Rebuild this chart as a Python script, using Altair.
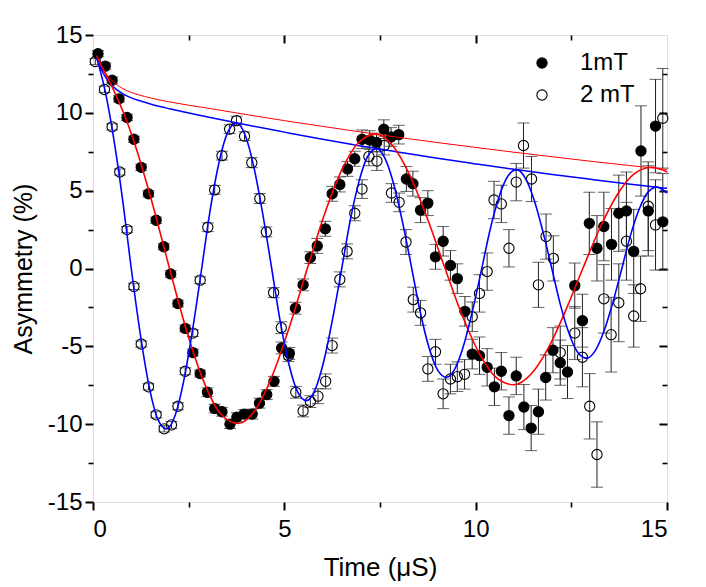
import altair as alt
import pandas as pd

# ---------------- data ----------------
# 1 mT (filled circles)
t1 = [0.13, 0.32, 0.50, 0.68, 0.89, 1.07, 1.26, 1.45, 1.65, 1.85,
      2.03, 2.22, 2.41, 2.61, 2.80, 2.99, 3.18, 3.37, 3.58, 3.76,
      3.95, 4.16, 4.35, 4.54, 4.73, 4.93, 5.13, 5.29, 5.49, 5.68,
      5.86, 6.07, 6.25, 6.45, 6.65, 6.84, 7.03, 7.23, 7.41, 7.60,
      7.79, 7.99, 8.19, 8.36, 8.56, 8.75, 8.95, 9.15, 9.34, 9.52,
      9.72, 9.91, 10.10, 10.30, 10.49, 10.67, 10.87, 11.06, 11.26, 11.45,
      11.64, 11.83, 12.02, 12.21, 12.40, 12.59, 12.79, 12.97, 13.17, 13.35,
      13.55, 13.74, 13.94, 14.13, 14.32, 14.51, 14.70, 14.89]
y1 = [13.8, 13.0, 12.1, 10.9, 9.7, 8.3, 6.5, 4.8, 3.1, 1.4,
      -0.35, -2.25, -3.85, -5.4, -6.75, -7.95, -9.0, -9.2, -10.0, -9.55,
      -9.35, -9.35, -8.65, -8.1, -7.25, -5.1, -5.45, -2.55, -1.05, 0.7,
      1.45, 2.55, 4.8, 5.4, 6.4, 7.05, 8.3, 8.25, 8.1, 8.95,
      8.45, 8.6, 5.75, 5.45, 3.75, 4.2, 0.75, 1.75, 0.2, -0.65,
      -2.75, -5.5, -5.6, -6.35, -7.6, -6.6, -9.45, -6.9, -8.9, -10.25,
      -9.2, -7.0, -5.25, -6.05, -6.65, -1.1, -3.35, 2.9, 1.3, 2.7,
      1.55, 3.55, 3.7, 1.1, 7.55, 3.7, 9.15, 3.0]
e1 = [0.2, 0.2, 0.2, 0.2, 0.2, 0.2, 0.2, 0.2, 0.2, 0.2,
      0.22, 0.22, 0.22, 0.22, 0.22, 0.28, 0.28, 0.28, 0.28, 0.28,
      0.28, 0.32, 0.32, 0.32, 0.32, 0.38, 0.38, 0.38, 0.38, 0.38,
      0.48, 0.48, 0.48, 0.48, 0.48, 0.48, 0.6, 0.6, 0.6, 0.6,
      0.6, 0.6, 0.8, 0.8, 0.8, 0.8, 0.8, 0.95, 0.95, 0.95,
      0.95, 0.95, 1.2, 1.2, 1.2, 1.2, 1.2, 1.2, 1.45, 1.45,
      1.45, 1.45, 1.45, 1.45, 1.7, 1.45, 1.7, 2.0, 2.1, 2.2,
      2.3, 2.45, 2.5, 2.7, 2.9, 2.9, 3.0, 3.1]

# 2 mT (open circles)
t2 = [0.06, 0.30, 0.50, 0.70, 0.89, 1.07, 1.26, 1.45, 1.65, 1.86,
      2.05, 2.22, 2.41, 2.61, 2.80, 3.00, 3.18, 3.37, 3.57, 3.75,
      3.96, 4.15, 4.36, 4.53, 4.72, 4.92, 5.11, 5.30, 5.49, 5.68,
      5.88, 6.08, 6.25, 6.45, 6.64, 6.84, 7.03, 7.21, 7.42, 7.61,
      7.80, 8.00, 8.18, 8.37, 8.56, 8.75, 8.95, 9.15, 9.34, 9.52,
      9.71, 9.91, 10.10, 10.30, 10.48, 10.67, 10.87, 11.06, 11.25, 11.46,
      11.64, 11.84, 12.03, 12.21, 12.59, 12.79, 12.98, 13.17, 13.35, 13.54,
      13.74, 13.94, 14.13, 14.31, 14.51, 14.70, 14.89]
y2 = [13.3, 11.5, 9.1, 6.2, 2.5, -1.15, -4.85, -7.6, -9.4, -10.3,
      -10.05, -8.85, -6.6, -4.15, -0.75, 2.65, 5.05, 7.25, 8.95, 9.5,
      8.5, 6.8, 4.5, 2.35, -1.55, -3.8, -5.6, -7.95, -9.15, -8.55,
      -8.2, -7.25, -4.95, -0.7, 1.1, 3.55, 5.1, 7.2, 6.9, 7.9,
      4.85, 4.25, 1.7, -2.0, -2.85, -6.45, -5.35, -8.05, -7.1, -6.95,
      -6.8, -3.1, -1.6, -0.2, 4.4, 4.15, 1.3, 5.55, 7.9, 5.75,
      -1.05, 2.05, 0.65, -5.4, -4.15, -5.7, -8.85, -11.95, -1.95, -4.25,
      -2.2, 1.75, -3.05, -1.3, 4.0, 2.8, 9.65]
e2 = [0.2, 0.2, 0.2, 0.2, 0.2, 0.2, 0.2, 0.2, 0.2, 0.2,
      0.22, 0.22, 0.22, 0.22, 0.22, 0.28, 0.28, 0.28, 0.28, 0.28,
      0.28, 0.32, 0.32, 0.32, 0.32, 0.38, 0.38, 0.38, 0.38, 0.38,
      0.48, 0.48, 0.48, 0.48, 0.48, 0.48, 0.6, 0.6, 0.6, 0.6,
      0.6, 0.6, 0.8, 0.8, 0.8, 0.8, 0.8, 0.95, 0.95, 0.95,
      0.95, 0.95, 1.2, 1.2, 1.2, 1.2, 1.2, 1.2, 1.45, 1.45,
      1.45, 1.45, 1.45, 1.7, 1.7, 1.9, 2.1, 2.1, 2.2, 2.4,
      2.5, 2.5, 2.0, 2.1, 2.85, 2.9, 3.2]

# fitted curves
red_t = [0.1, 0.2, 0.4, 0.6, 0.8, 1.1, 1.55, 2.0, 2.45, 2.9, 3.35, 3.8, 4.25,
         4.7, 5.15, 5.6, 6.05, 6.5, 6.95, 7.4, 7.85, 8.3, 8.75, 9.2, 9.65,
         10.1, 10.55, 11.0, 11.45, 11.9, 12.35, 12.8, 13.25, 13.7, 14.15,
         14.6, 15.0]
red_y = [13.65, 13.12, 12.15, 11.14, 9.99, 7.94, 4.19, 0.0, -4.03, -7.30,
         -9.38, -9.96, -9.05, -6.79, -3.62, 0.0, 3.49, 6.32, 8.11, 8.63, 7.84,
         5.88, 3.13, 0.0, -3.02, -5.48, -7.03, -7.47, -6.78, -5.10, -2.71, 0.0,
         2.62, 4.74, 6.09, 6.5, 6.2]
blue_t = [0.1, 0.32, 0.55, 0.78, 1.0, 1.23, 1.46, 1.69, 1.92, 2.15, 2.38,
          2.61, 2.84, 3.06, 3.29, 3.52, 3.75, 3.98, 4.21, 4.44, 4.67, 4.89,
          5.12, 5.35, 5.58, 5.81, 6.04, 6.27, 6.5, 6.72, 6.95, 7.18, 7.41,
          7.64, 7.87, 8.1, 8.33, 8.55, 8.78, 9.01, 9.24, 9.47, 9.7, 9.93,
          10.16, 10.38, 10.61, 10.84, 11.07, 11.3, 11.53, 11.76, 11.99, 12.21,
          12.44, 12.67, 12.9, 13.13, 13.36, 13.59, 13.82, 14.04, 14.27, 14.5,
          14.73, 15.0]
blue_y = [13.5, 11.38, 8.22, 4.30, 0.0, -4.12, -7.49, -9.66, -10.31, -9.41,
          -7.11, -3.81, 0.0, 3.72, 6.78, 8.75, 9.35, 8.54, 6.45, 3.45, 0.0,
          -3.37, -6.15, -7.94, -8.49, -7.75, -5.86, -3.13, 0.0, 3.06, 5.58,
          7.21, 7.70, 7.03, 5.32, 2.85, 0.0, -2.78, -5.07, -6.54, -6.99, -6.38,
          -4.82, -2.58, 0.0, 2.52, 4.60, 5.93, 6.35, 5.79, 4.38, 2.34, 0.0,
          -2.29, -4.17, -5.39, -5.76, -5.26, -3.97, -2.13, 0.0, 2.08, 3.79,
          4.89, 5.23, 4.85]
env_t = [0.1, 0.2, 0.3, 0.4, 0.5, 0.6, 0.8, 1.0, 1.2, 1.5, 2, 3, 4, 5, 6, 7,
         8, 9, 10, 11, 12, 13, 14, 15]
renv_y = [13.70, 13.12, 12.68, 12.33, 12.06, 11.85, 11.53, 11.31, 11.15,
          10.96, 10.70, 10.30, 9.89, 9.50, 9.13, 8.77, 8.42, 8.09, 7.78, 7.47,
          7.18, 6.89, 6.62, 6.36]
benv_y = [13.50, 12.88, 12.40, 12.04, 11.75, 11.52, 11.20, 10.96, 10.79,
          10.57, 10.26, 9.73, 9.23, 8.76, 8.30, 7.87, 7.47, 7.08, 6.72, 6.37,
          6.04, 5.73, 5.43, 5.15]

series_names = ["1mT", "2 mT"]

# ---------------- tables ----------------
pts = pd.concat([
    pd.DataFrame({"t": t2, "y": y2, "e": e2, "series": series_names[1]}),
    pd.DataFrame({"t": t1, "y": y1, "e": e1, "series": series_names[0]}),
], ignore_index=True)
pts["lo"] = pts["y"] - pts["e"]
pts["hi"] = pts["y"] + pts["e"]

red_df = pd.DataFrame({"t": red_t, "y": red_y})
blue_df = pd.DataFrame({"t": blue_t, "y": blue_y})
renv_df = pd.DataFrame({"t": env_t, "y": renv_y})
benv_df = pd.DataFrame({"t": env_t, "y": benv_y})
carrier_df = pd.DataFrame({"t": [0.0], "y": [0.0]})

FONT = "Liberation Sans"
xs = alt.Scale(domain=[0, 15], nice=False, zero=False)
ys = alt.Scale(domain=[-15, 15], nice=False, zero=False)


def X(field="t", axis=None):
    return alt.X(f"{field}:Q", scale=xs, axis=axis)


def Y(field="y", axis=None):
    return alt.Y(f"{field}:Q", scale=ys, axis=axis)


def line(df, color, width):
    return alt.Chart(df).mark_line(color=color, strokeWidth=width,
                                   interpolate="monotone").encode(x=X(), y=Y())


renv = line(renv_df, "#ff0000", 1)
benv = line(benv_df, "#0000ff", 1.5)
red = line(red_df, "#ff0000", 1.6)
blue = line(blue_df, "#0000ff", 1.6)

bars = alt.Chart(pts).mark_rule(color="#222222", strokeWidth=1).encode(
    x=X(), y=Y("lo"), y2="hi:Q")
cap_lo = alt.Chart(pts).mark_tick(orient="horizontal", size=12, thickness=1,
                                  color="#222222").encode(x=X(), y=Y("lo"))
cap_hi = alt.Chart(pts).mark_tick(orient="horizontal", size=12, thickness=1,
                                  color="#222222").encode(x=X(), y=Y("hi"))

points = alt.Chart(pts).mark_point(shape="circle", filled=True, size=105,
                                   stroke="black", strokeWidth=1.1,
                                   opacity=1).encode(
    x=X(), y=Y(),
    fill=alt.Fill("series:N",
                  scale=alt.Scale(domain=series_names,
                                  range=["black", "transparent"]),
                  legend=alt.Legend(orient="none", legendX=437, legendY=16,
                                    title=None, padding=0,
                                    labelFont=FONT, labelFontSize=24,
                                    labelColor="black", labelOffset=26,
                                    rowPadding=8, symbolType="circle",
                                    symbolSize=105, symbolStrokeColor="black",
                                    symbolStrokeWidth=1.1, symbolOpacity=1)),
)

tick_common = dict(domain=False, grid=False, tickColor="black",
                   labelFont=FONT, labelFontSize=24, labelColor="black")

x_major = alt.Axis(orient="bottom", values=[0, 5, 10, 15], tickSize=8,
                   tickWidth=2, labelPadding=7, title="Time (\u03bcS)",
                   titleFont=FONT, titleFontSize=26, titleFontWeight="normal",
                   titleColor="black", titleX=287, titleY=73,
                   titleBaseline="alphabetic", titleAlign="center",
                   **tick_common)
x_minor = alt.Axis(orient="bottom", values=[2.5, 7.5, 12.5], tickSize=5,
                   tickWidth=1.6, labels=False, title=None, **tick_common)
y_major = alt.Axis(orient="left", values=[-15, -10, -5, 0, 5, 10, 15],
                   tickSize=8, tickWidth=2, labelPadding=3,
                   labelExpr="datum.value < 0 ? '-' + (-datum.value) : '' + datum.value",
                   title="Asymmetry (%)", titleFont=FONT, titleFontSize=25,
                   titleFontWeight="normal", titleColor="black",
                   titleX=-62, titleY=233.5, titleAngle=270,
                   titleBaseline="alphabetic", titleAlign="center",
                   **tick_common)
y_minor = alt.Axis(orient="left", values=[-12.5, -7.5, -2.5, 2.5, 7.5, 12.5],
                   tickSize=5, tickWidth=1.6, labels=False, title=None,
                   **tick_common)
top_major = alt.Axis(orient="top", values=[5, 10], tickSize=8, tickWidth=2,
                     offset=-8, labels=False, title=None, **tick_common)
top_minor = alt.Axis(orient="top", values=[2.5, 7.5, 12.5], tickSize=5,
                     tickWidth=1.6, offset=-5, labels=False, title=None,
                     **tick_common)
right_major = alt.Axis(orient="right", values=[-10, -5, 0, 5, 10], tickSize=8,
                       tickWidth=2, offset=-8, labels=False, title=None,
                       **tick_common)
right_minor = alt.Axis(orient="right",
                       values=[-12.5, -7.5, -2.5, 2.5, 7.5, 12.5], tickSize=5,
                       tickWidth=1.6, offset=-5, labels=False, title=None,
                       **tick_common)


def carrier(xaxis=None, yaxis=None):
    return alt.Chart(carrier_df).mark_point(opacity=0).encode(
        x=X(axis=xaxis), y=Y(axis=yaxis))


chart = alt.layer(
    bars, cap_lo, cap_hi, points, renv, benv, red, blue,
    carrier(xaxis=x_major), carrier(xaxis=x_minor),
    carrier(yaxis=y_major), carrier(yaxis=y_minor),
    carrier(xaxis=top_major), carrier(xaxis=top_minor),
    carrier(yaxis=right_major), carrier(yaxis=right_minor),
).resolve_axis(x="independent", y="independent").properties(
    width=574, height=467,
    padding={"left": 85, "top": 27, "right": 30, "bottom": 85},
    autosize=alt.AutoSizeParams(type="none"),
).configure_view(stroke="black", strokeWidth=2).configure(background="white")

chart.save("out.html", embed_options={"renderer": "svg", "actions": False})
